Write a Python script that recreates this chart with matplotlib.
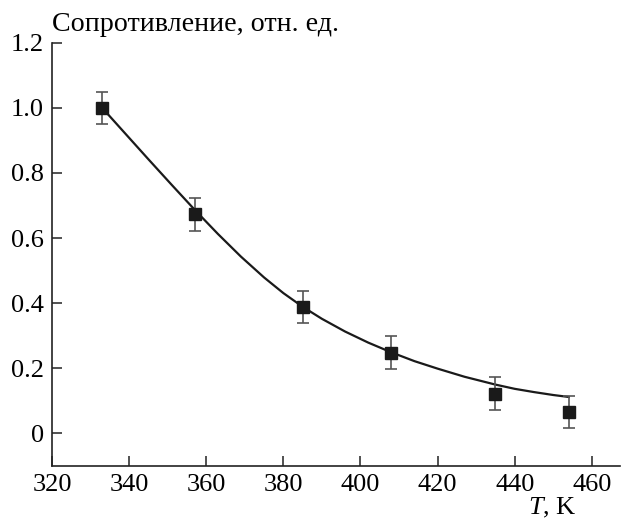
import numpy as np
import matplotlib
matplotlib.use('Agg')
import matplotlib.pyplot as plt

# measured points
T = [333, 357, 385, 408, 435, 454]
R = [1.0, 0.673, 0.388, 0.248, 0.122, 0.066]
R_err = [0.05, 0.05, 0.05, 0.05, 0.05, 0.05]

# fitted curve
T_fit = [333, 339, 345, 351, 357, 363, 369, 375, 380, 385, 390, 396, 402, 408, 414, 420, 427, 435, 440, 445, 450, 454]
R_fit = [1.0, 0.921, 0.842, 0.764, 0.687, 0.613, 0.543, 0.479, 0.431, 0.389, 0.352, 0.313, 0.279, 0.249, 0.222, 0.199, 0.174, 0.150, 0.137, 0.127, 0.118, 0.112]

x_ticks = [320, 340, 360, 380, 400, 420, 440, 460]
y_ticks = [0, 0.2, 0.4, 0.6, 0.8, 1.0, 1.2]
y_labels = ['0', '0.2', '0.4', '0.6', '0.8', '1.0', '1.2']

plt.rcParams['font.family'] = ['Liberation Serif', 'DejaVu Serif']
plt.rcParams['mathtext.fontset'] = 'custom'
plt.rcParams['mathtext.rm'] = 'Liberation Serif'
plt.rcParams['mathtext.it'] = 'Liberation Serif:italic'

fig = plt.figure(figsize=(6.21, 5.2), dpi=100)
ax = fig.add_axes([52 / 621, 1 - 466 / 520, (620 - 52) / 621, (466 - 42.7) / 520])

ax.plot(T_fit, R_fit, color='#1a1a1a', lw=1.6, zorder=2)
ax.errorbar(T, R, yerr=R_err, fmt='s', color='#1a1a1a', ms=8, ecolor='#555555',
            elinewidth=1.2, capsize=4, capthick=1.2, zorder=3)

ax.set_xlim(320, 467.3)
ax.set_ylim(-0.1, 1.2)
ax.set_xticks(x_ticks)
ax.set_yticks(y_ticks)
ax.set_yticklabels(y_labels)

for side in ['top', 'right']:
    ax.spines[side].set_visible(False)
for side in ['left', 'bottom']:
    ax.spines[side].set_linewidth(1.2)
    ax.spines[side].set_color('#222222')

ax.tick_params(direction='in', length=7, width=1.1, color='#222222', labelsize=19)
ax.tick_params(axis='y', pad=6)
ax.tick_params(axis='x', pad=6)

fig.text(52 / 621, 1 - 24 / 520, 'Сопротивление, отн. ед.', fontsize=20.2, va='center', ha='left')
fig.text(577 / 621, 6 / 520, '$T$, K', fontsize=19, va='baseline', ha='right')

fig.savefig('out.png', dpi=100)
